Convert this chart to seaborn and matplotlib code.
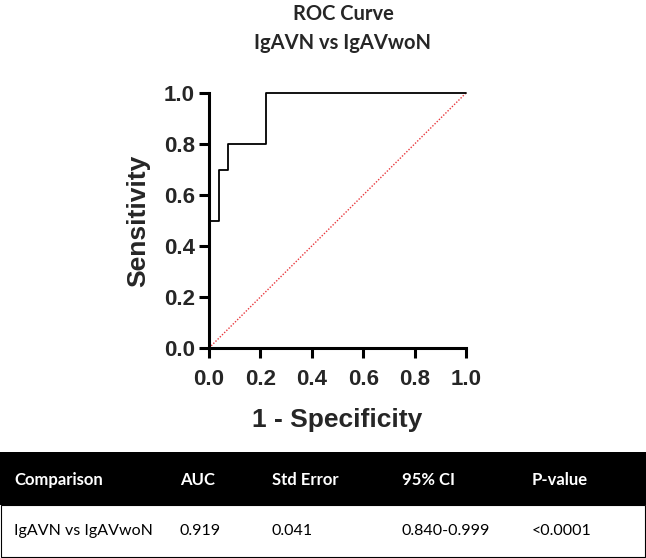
import matplotlib
matplotlib.use("Agg")
import matplotlib.pyplot as plt
from matplotlib.patches import Rectangle
import seaborn as sns

# ROC curve points (1 - specificity, sensitivity)
fpr = [0.0, 0.0, 0.037, 0.037, 0.074, 0.074, 0.222, 0.222, 1.0]
tpr = [0.0, 0.5, 0.5, 0.7, 0.7, 0.8, 0.8, 1.0, 1.0]
ref_line = [0.0, 1.0]

# summary table
table_header = ["Comparison", "AUC", "Std Error", "95% CI", "P-value"]
table_row = ["IgAVN vs IgAVwoN", "0.919", "0.041", "0.840-0.999", "<0.0001"]

sns.set_style("ticks")
plt.rcParams['font.family'] = ['Liberation Sans', 'DejaVu Sans']

W, H = 646, 558
fig = plt.figure(figsize=(W / 100, H / 100), dpi=100)

# plot area in pixels: x 209..466, y 93..348
ax = fig.add_axes([209 / W, 1 - 348 / H, (466 - 209) / W, (348 - 93) / H])

sns.lineplot(x=ref_line, y=ref_line, ax=ax, color="#e8383d", linestyle=(0, (1, 1.2)),
             linewidth=1.0, estimator=None, sort=False)
sns.lineplot(x=fpr, y=tpr, ax=ax, color="black", linewidth=1.3,
             estimator=None, sort=False)

ax.set_xlim(0, 1)
ax.set_ylim(0, 1)
ticks = [0.0, 0.2, 0.4, 0.6, 0.8, 1.0]
ax.set_xticks(ticks)
ax.set_yticks(ticks)
ax.set_xticklabels([f"{t:.1f}" for t in ticks], fontsize=16, fontweight="bold")
ax.set_yticklabels([f"{t:.1f}" for t in ticks], fontsize=16, fontweight="bold")
ax.tick_params(axis="x", length=7, width=2.2, color="black", pad=8)
ax.tick_params(axis="y", length=7, width=2.2, color="black", pad=3)
for s in ["left", "bottom"]:
    ax.spines[s].set_linewidth(2.2)
    ax.spines[s].set_color("black")
    ax.spines[s].set_capstyle("projecting")
sns.despine(ax=ax)
for l in ax.lines:
    l.set_clip_on(False)

ax.set_xlabel("1 - Specificity", fontsize=19, fontweight="bold", labelpad=13)
ax.set_ylabel("Sensitivity", fontsize=19, fontweight="bold", labelpad=10)

fig.text(343 / W, 1 - 14 / H, "ROC Curve", ha="center", va="center",
         fontsize=14.5, fontweight="bold", family="Lato")
fig.text(343 / W, 1 - 43 / H, "IgAVN vs IgAVwoN", ha="center", va="center",
         fontsize=14.5, fontweight="bold", family="Lato")

# table area: y 452..558 pixels
tab = fig.add_axes([0, 0, 1, 106 / H])
tab.set_xlim(0, W)
tab.set_ylim(106, 0)
tab.axis("off")
tab.add_patch(Rectangle((0, 0), W, 53, facecolor="black", edgecolor="none"))
tab.add_patch(Rectangle((0.5, 53), W - 1.5, 51.5, facecolor="white",
                        edgecolor="black", linewidth=0.8))
col_x = [14, 180, 272, 402, 532]
for x, h, v in zip(col_x, table_header, table_row):
    tab.text(x, 28, h, color="white", fontsize=12, fontweight="bold",
             family="Lato", va="center", ha="left")
    tab.text(x, 79, v, color="black", fontsize=11.5, family="Lato",
             va="center", ha="left")

fig.savefig("out.png", dpi=100)
